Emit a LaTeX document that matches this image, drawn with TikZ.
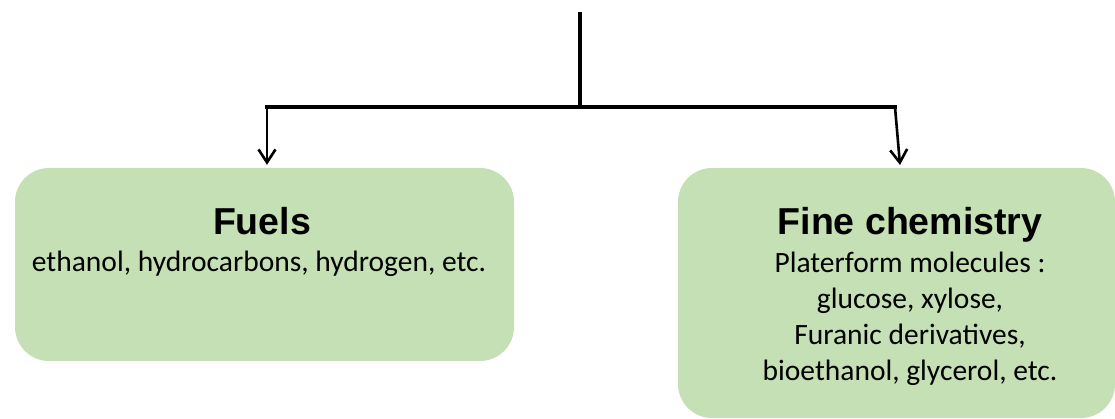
\documentclass[tikz,border=0pt]{standalone}
\usepackage{fontspec}
\setmainfont{Carlito}
\newfontfamily\arialfont{Liberation Sans}
\usetikzlibrary{arrows.meta}
\definecolor{boxgreen}{HTML}{C5E0B4}
\begin{document}
\begin{tikzpicture}[x=1pt,y=-1pt,
  box/.style={fill=boxgreen, rounded corners=34pt, draw=none, inner sep=0pt},
  conn/.style={line width=4pt},
  arr/.style={line width=2.6pt,-{Straight Barb[length=13pt,width=17pt,line width=2.6pt]}},
  titletext/.style={font=\arialfont\bfseries\fontsize{37.5}{45}\selectfont, inner sep=0pt, anchor=base},
  bodytext/.style={font=\fontsize{29.5}{36}\selectfont, align=center, inner sep=0pt, anchor=base}
]
\useasboundingbox (0,0) rectangle (1115,419);
\node[box, minimum width=499pt, minimum height=193pt] (fuels) at (264.5,264.5) {};
\node[box, minimum width=437pt, minimum height=250pt] (fine) at (896.5,293) {};
\node[titletext] (fuelsT) at (262,235) {Fuels};
\node[bodytext] (fuelsB) at (259,272) {ethanol, hydrocarbons, hydrogen, etc.};
\node[titletext] (fineT) at (910,235) {Fine chemistry};
\node[bodytext] (fineB) at (910,380) {Platerform molecules :\\ glucose, xylose,\\ Furanic derivatives,\\ bioethanol, glycerol, etc.};
\coordinate (top) at (580,12);
\coordinate (hl) at (267,107);
\coordinate (hr) at (895,107);
\coordinate (rt) at (900,165);
\draw[conn] (top) -- (top |- hl);
\draw[conn, line cap=rect] (hl) -- (hr);
\draw[arr] (hl) -- ([yshift=3pt]fuels.north -| hl);
\draw[arr] (hr) -- (rt);
\end{tikzpicture}
\end{document}
